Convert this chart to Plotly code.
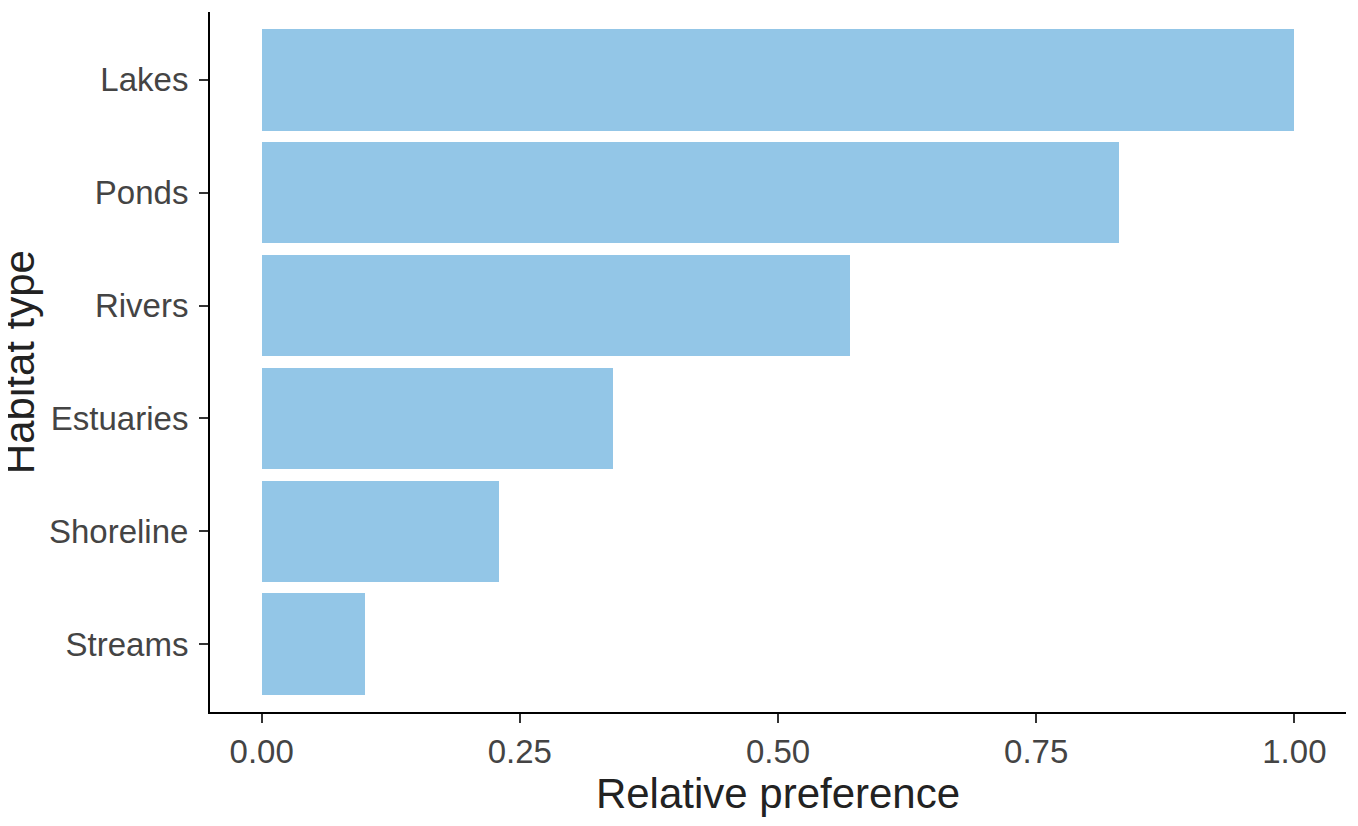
import plotly.graph_objects as go

habitats = ["Lakes", "Ponds", "Rivers", "Estuaries", "Shoreline", "Streams"]
preference = [1.00, 0.83, 0.57, 0.34, 0.23, 0.10]
x_ticks = [0, 0.25, 0.5, 0.75, 1.0]

fig = go.Figure()

fig.add_trace(go.Bar(x=preference, y=habitats, orientation="h", width=0.9,
                     marker_color="#93C6E7", marker_line_width=0))

# page body adds 8px, so the figure is a bit smaller than the window
fig.update_layout(
    width=1350, height=818,
    margin=dict(l=202, r=12, t=4, b=114),
    plot_bgcolor="white", paper_bgcolor="white",
    font=dict(family="Liberation Sans, Arial", color="#333333"),
    showlegend=False,
    bargap=0,
)

fig.update_xaxes(range=[-0.05, 1.05], tickvals=x_ticks, tickformat=".2f",
                 showline=True, linecolor="black", linewidth=2, showgrid=False,
                 zeroline=False, ticks="outside", ticklen=9, tickwidth=2,
                 tickcolor="#333333", tickfont=dict(size=33, color="#444444"),
                 automargin=False,
                 title=dict(text="Relative preference", font=dict(size=42, color="#222222"),
                            standoff=8))

fig.update_yaxes(range=[5.6, -0.6], categoryorder="array", categoryarray=habitats,
                 showline=True, linecolor="black", linewidth=2, showgrid=False,
                 zeroline=False, ticks="outside", ticklen=9, tickwidth=2,
                 tickcolor="#333333", tickfont=dict(size=33, color="#444444"),
                 ticklabelstandoff=4, automargin=False)

# y title as annotation so it sits clear of the tick labels
fig.add_annotation(text="Habitat type", xref="paper", yref="paper", x=-0.168, y=0.5,
                   textangle=-90, showarrow=False, xanchor="center", yanchor="middle",
                   font=dict(size=42, color="#222222"))

fig.write_html("out.html")
